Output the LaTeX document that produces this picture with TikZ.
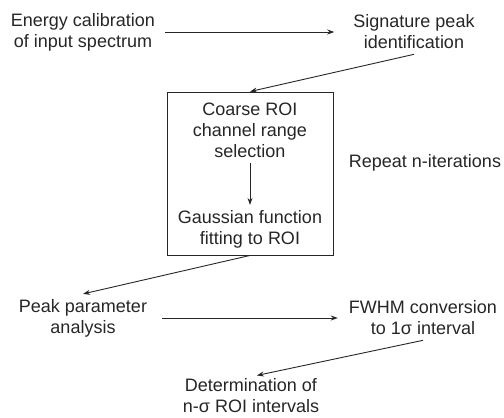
\documentclass[tikz,border=0pt]{standalone}
\usepackage{fontspec}
\setmainfont{Liberation Sans}
\usepackage{tikz}
\usetikzlibrary{arrows.meta}

\tikzset{
  stage/.style={align=center, inner sep=5pt, font=\fontsize{18}{21}\selectfont, text=black!85},
  arr/.style={-{Stealth[length=7pt,width=5pt]}, line width=0.9pt, draw=black!85}
}

\begin{document}
\begin{tikzpicture}[x=1pt, y=-1pt]
      \useasboundingbox (0,0) rectangle (504,418);

      % Top row
      \node[stage] (energy) at (83,32) {Energy calibration\\of input spectrum};
      \node[stage] (sig) at (414,32) {Signature peak\\identification};

      % Iteration box
      \node[draw=black!85, line width=0.9pt, minimum width=166pt, minimum height=163pt] (loop) at (250,173.5) {};
      \node[stage] (coarse) at (250,130) {Coarse ROI\\channel range\\selection};
      \node[stage] (gauss) at (250,229) {Gaussian function\\fitting to ROI};
      \node[stage] (repeat) at (425,163) {Repeat n-iterations};

      % Bottom rows
      \node[stage] (peak) at (83,318) {Peak parameter\\analysis};
      \node[stage] (fwhm) at (423,318) {FWHM conversion\\to 1σ interval};
      \node[stage, inner sep=2pt] (determ) at (251,396) {Determination of\\n-σ ROI intervals};

      % Arrows
      \draw[arr, shorten <=5pt, shorten >=14pt] (energy.east) -- (sig.west);
      \draw[arr] (sig.south) -- (loop.north);
      \draw[arr] (coarse.south) -- (gauss.north);
      \draw[arr] (loop.south) -- (peak.north);
      \draw[arr, shorten <=10pt, shorten >=6pt] (peak.east) -- (fwhm.west);
      \draw[arr, shorten >=6pt] (fwhm.south) -- (determ.north);
  \end{tikzpicture}
\end{document}
